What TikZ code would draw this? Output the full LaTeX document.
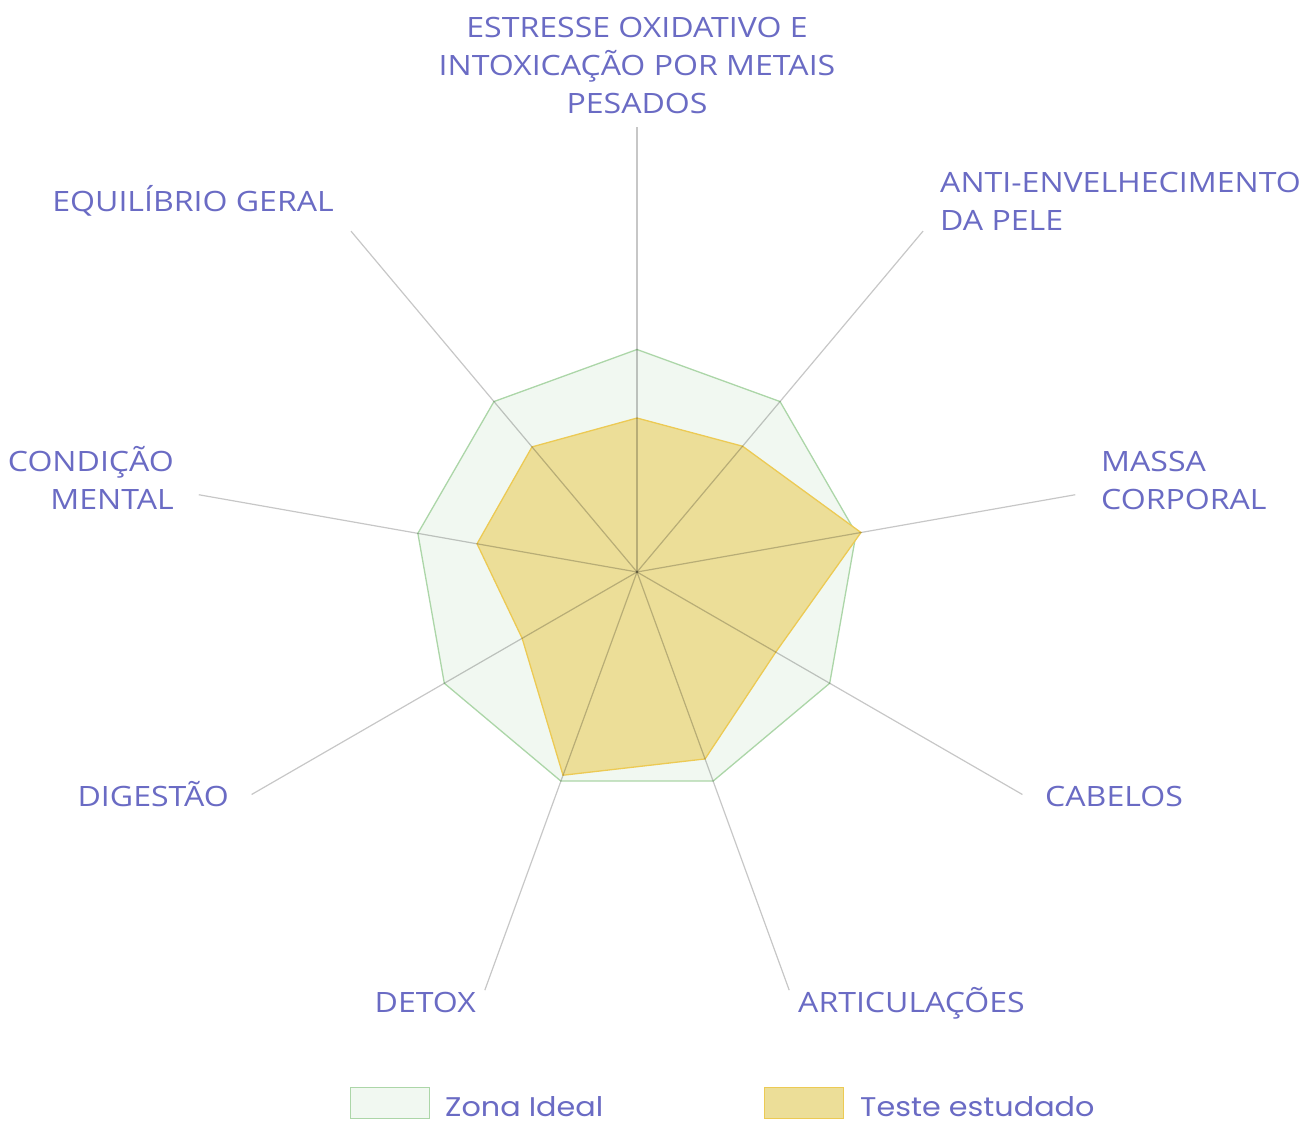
\documentclass[tikz,border=0pt]{standalone}
\usepackage{fontspec}
\setmainfont{Open Sans}[FakeStretch=1.145]
\newfontfamily\legfont{Poppins}[FakeStretch=1.12]
\definecolor{lab}{RGB}{106,107,196}
\definecolor{gline}{RGB}{172,214,168}
\definecolor{gfill}{RGB}{241,248,241}
\definecolor{yline}{RGB}{236,202,84}
\definecolor{yfill}{RGB}{236,222,152}
\begin{document}
\begin{tikzpicture}[x=1pt,y=-1pt,
  lbl/.style={text=lab,font=\fontsize{28}{38}\selectfont,inner sep=0pt},
  legtxt/.style={text=lab,font=\legfont\fontsize{27}{32}\selectfont,inner sep=0pt,anchor=base west},
  axisline/.style={black,opacity=0.22,line width=1.2pt},
  ideal/.style={draw=gline,fill=gfill,line width=1.3pt,line join=miter},
  tested/.style={draw=yline,fill=yfill,line width=1.3pt,line join=miter}]
\useasboundingbox (0,0) rectangle (1301,1121);
\fill[white] (0,0) rectangle (1301,1121);
\coordinate (C) at (637,572);
\foreach \i/\v in {0/0.346,1/0.369,2/0.511,3/0.36,4/0.447,5/0.486,6/0.298,7/0.365,8/0.367}{
  \coordinate (E\i) at ({637+445*sin(40*\i)},{572-445*cos(40*\i)});
  \coordinate (G\i) at ({637+222.5*sin(40*\i)},{572-222.5*cos(40*\i)});
  \coordinate (Y\i) at ({637+445*\v*sin(40*\i)},{572-445*\v*cos(40*\i)});
}
\path[ideal] (G0)--(G1)--(G2)--(G3)--(G4)--(G5)--(G6)--(G7)--(G8)--cycle;
\path[tested] (Y0)--(Y1)--(Y2)--(Y3)--(Y4)--(Y5)--(Y6)--(Y7)--(Y8)--cycle;
\foreach \i in {0,...,8}{\draw[axisline] (C)--(E\i);}
% labels
\node[lbl,align=center,anchor=north] (l0) at (637,17) {ESTRESSE OXIDATIVO E\\INTOXICAÇÃO POR METAIS\\PESADOS};
\node[lbl,align=left,anchor=north west] (l1) at (940,172) {ANTI-ENVELHECIMENTO\\DA PELE};
\node[lbl,align=left,anchor=north west] (l2) at (1101,451) {MASSA\\CORPORAL};
\node[lbl,anchor=base west] (l3) at (1045,806) {CABELOS};
\node[lbl,anchor=base west] (l4) at (798,1012) {ARTICULAÇÕES};
\node[lbl,anchor=base east] (l5) at (476,1012) {DETOX};
\node[lbl,anchor=base east] (l6) at (229,806) {DIGESTÃO};
\node[lbl,align=right,anchor=north east] (l7) at (174,446) {CONDIÇÃO\\MENTAL};
\node[lbl,anchor=base east] (l8) at (334,211) {EQUILÍBRIO GERAL};
% legend
\node[draw=gline,fill=gfill,line width=1.3pt,minimum width=79pt,minimum height=31pt,inner sep=0pt] (lg1) at (390,1103) {};
\node[legtxt] (lt1) at (445,1116) {Zona Ideal};
\node[draw=yline,fill=yfill,line width=1.3pt,minimum width=79pt,minimum height=31pt,inner sep=0pt] (lg2) at (804,1103) {};
\node[legtxt] (lt2) at (860,1116) {Teste estudado};
\end{tikzpicture}
\end{document}
